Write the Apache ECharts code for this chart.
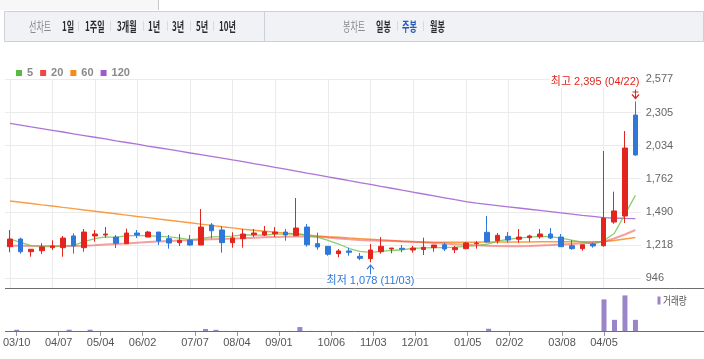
<!DOCTYPE html>
<html><head><meta charset="utf-8">
<script src="https://cdn.jsdelivr.net/npm/echarts@6/dist/echarts.min.js"></script>
<style>html,body{margin:0;padding:0;background:#fff}#c{width:704px;height:359px}</style>
</head><body><div id="c"></div>
<script>
// ---- data (weekly) ----
const dates = ['03/10','03/17','03/24','03/31','04/07','04/14','04/21','04/28','05/04','05/12','05/19','05/26','06/02','06/09','06/16','06/23','06/30','07/07','07/14','07/21','07/28','08/04','08/11','08/18','08/25','09/01','09/08','09/15','09/22','09/29','10/06','10/13','10/20','10/27','11/03','11/10','11/17','11/24','12/01','12/08','12/15','12/22','12/29','01/05','01/12','01/19','01/26','02/02','02/09','02/16','02/23','03/02','03/08','03/16','03/23','03/30','04/05','04/12','04/19','04/26'];
const tickLabels = ['03/10','04/07','05/04','06/02','07/07','08/04','09/01','10/06','11/03','12/01','01/05','02/02','03/08','04/05'];
const priceTicks = [946,1218,1490,1762,2034,2305,2577];
const opens  = [1205,1268,1164,1172,1197,1197,1293,1197,1293,1301,1284,1230,1317,1284,1325,1271,1238,1260,1219,1383,1342,1238,1271,1303,1301,1311,1325,1295,1366,1230,1208,1148,1170,1126,1107,1164,1186,1192,1178,1182,1197,1221,1180,1189,1230,1323,1254,1290,1266,1279,1287,1309,1284,1213,1189,1227,1213,1407,1457,2284];
const closes = [1268,1164,1184,1203,1211,1276,1211,1325,1309,1309,1233,1317,1301,1325,1252,1235,1257,1219,1366,1336,1238,1276,1309,1317,1328,1325,1301,1358,1221,1203,1143,1170,1159,1110,1178,1208,1194,1184,1194,1200,1219,1186,1197,1235,1235,1244,1298,1260,1284,1293,1309,1276,1205,1189,1221,1211,1440,1498,2014,1957];
const lows   = [1159,1148,1123,1145,1178,1123,1148,1164,1246,1279,1194,1230,1276,1284,1219,1189,1211,1213,1219,1271,1156,1197,1197,1284,1293,1287,1254,1295,1205,1180,1131,1118,1131,1094,1078,1148,1151,1159,1156,1137,1164,1170,1153,1184,1189,1238,1230,1238,1238,1246,1271,1268,1205,1180,1172,1197,1205,1393,1399,1951];
const highs  = [1342,1279,1186,1233,1257,1293,1315,1350,1342,1366,1301,1353,1342,1334,1325,1301,1309,1301,1514,1399,1375,1323,1350,1350,1375,1366,1350,1604,1391,1320,1208,1186,1197,1153,1227,1284,1194,1219,1211,1279,1219,1238,1211,1244,1252,1457,1317,1325,1350,1303,1350,1358,1309,1260,1221,1238,1989,1656,2153,2395];
const volumes = [130,5,4,4,6,130,5,130,4,4,5,4,4,4,5,4,5,6,200,120,6,5,4,4,5,5,6,400,8,6,6,5,4,4,6,5,4,4,4,5,4,4,4,5,4,230,6,5,4,4,5,4,6,5,4,5,3200,1130,3600,1130];
const ma5   = [1268,1240,1213,1210,1208,1210,1216,1247,1272,1285,1282,1295,1295,1296,1290,1285,1276,1263,1270,1285,1288,1291,1303,1300,1300,1308,1308,1313,1300,1283,1257,1227,1190,1166,1158,1166,1174,1180,1192,1196,1198,1198,1201,1207,1214,1225,1250,1266,1275,1283,1290,1287,1276,1258,1242,1226,1254,1313,1468,1626];
const ma20  = [1213,1212,1210,1209,1209,1210,1211,1213,1217,1222,1227,1232,1238,1243,1247,1251,1255,1258,1262,1266,1269,1272,1275,1279,1282,1285,1287,1289,1289,1286,1280,1272,1265,1260,1256,1254,1251,1248,1245,1241,1236,1231,1226,1220,1216,1212,1210,1209,1209,1210,1214,1218,1223,1228,1233,1238,1246,1272,1305,1342];
const ma60  = [1580,1569,1559,1548,1538,1527,1517,1506,1496,1485,1475,1464,1453,1443,1432,1422,1411,1401,1390,1380,1369,1359,1348,1340,1332,1324,1316,1309,1301,1293,1287,1282,1276,1271,1266,1261,1256,1250,1245,1241,1241,1241,1242,1242,1242,1243,1243,1243,1244,1244,1245,1245,1245,1246,1246,1246,1247,1256,1268,1280];
const ma120 = [2216,2202,2187,2173,2159,2145,2130,2116,2102,2088,2073,2059,2045,2030,2016,2002,1988,1973,1959,1945,1931,1916,1902,1886,1871,1855,1840,1824,1808,1793,1777,1762,1746,1731,1715,1699,1684,1668,1653,1637,1622,1606,1590,1575,1562,1552,1542,1532,1522,1512,1502,1492,1482,1472,1462,1453,1443,1440,1437,1435];
const highInfo = {idx: 59, value: 2395, text: '최고 2,395 (04/22)'};
const lowInfo  = {idx: 34, value: 1078, text: '최저 1,078 (11/03)'};

const RED = '#e2261f', BLUE = '#2f78da', VOL = '#9a85c8';
const LATIN = '"Liberation Sans", Arial, sans-serif';
const MIX = '"Liberation Sans", "Noto Sans CJK KR", sans-serif';
const KR = '"Noto Sans CJK KR", sans-serif';

const chart = echarts.init(document.getElementById('c'), null, {renderer: 'canvas', width: 704, height: 359});
const isTick = (i, v) => tickLabels.indexOf(v !== undefined ? v : dates[i]) >= 0;
const fmt = v => String(Math.round(v)).replace(/\B(?=(\d{3})+(?!\d))/g, ',');

function maSeries(name, data, solid, lineColor, width) {
  return {name, type: 'line', xAxisIndex: 0, yAxisIndex: 0, data, symbol: 'none', silent: true,
    itemStyle: {color: solid}, lineStyle: {color: lineColor, width}, z: 2};
}

const option = {
  animation: false,
  backgroundColor: '#fff',
  legend: {
    data: ['5','20','60','120'], left: 11, top: 62.5, icon: 'rect', itemWidth: 6, itemHeight: 6, itemGap: 7,
    textStyle: {color: '#8a8a8a', fontWeight: 'bold', fontSize: 11, fontFamily: LATIN}, selectedMode: false
  },
  grid: [
    {left: 4.7, top: 79.3, width: 636, height: 209, containLabel: false},
    {left: 4.7, top: 288.5, width: 636, height: 42.5, containLabel: false}
  ],
  xAxis: [
    {type: 'category', gridIndex: 0, data: dates, boundaryGap: true,
     axisLine: {show: false}, axisTick: {show: false}, axisLabel: {show: false},
     splitLine: {show: true, interval: isTick, alignWithLabel: true, lineStyle: {color: '#ebebeb', width: 1}}},
    {type: 'category', gridIndex: 1, data: dates, boundaryGap: true,
     axisLine: {show: false},
     axisTick: {show: true, interval: isTick, alignWithLabel: true, length: 5, lineStyle: {color: '#999'}},
     axisLabel: {interval: isTick, color: '#555', fontSize: 11, fontFamily: LATIN, margin: 6},
     splitLine: {show: false}}
  ],
  yAxis: [
    {type: 'value', gridIndex: 0, position: 'right', min: 864, max: 2577, scale: true,
     axisLine: {show: false}, axisTick: {show: false, customValues: priceTicks},
     axisLabel: {customValues: priceTicks, formatter: fmt, color: '#666', fontSize: 11, fontFamily: LATIN, margin: 5},
     splitLine: {show: true, lineStyle: {color: '#ebebeb', width: 1}}},
    {type: 'value', gridIndex: 1, min: 0, max: 4300, show: false, splitLine: {show: false}}
  ],
  series: [
    maSeries('120', ma120, '#9b5ccc', 'rgba(165,100,210,0.9)', 1.3),
    maSeries('60', ma60, '#f78a1d', 'rgba(247,140,35,0.85)', 1.4),
    maSeries('20', ma20, '#ee4747', 'rgba(238,80,80,0.55)', 2),
    maSeries('5', ma5, '#56bb3f', 'rgba(110,195,70,0.8)', 1.3),
    {name: 'price', type: 'candlestick', xAxisIndex: 0, yAxisIndex: 0, barWidth: 5, z: 3,
     data: dates.map((d, i) => [opens[i], closes[i], lows[i], highs[i]]),
     itemStyle: {color: RED, color0: BLUE, borderColor: RED, borderColor0: BLUE, borderWidth: 1}},
    {name: 'volume', type: 'bar', xAxisIndex: 1, yAxisIndex: 1, barWidth: 5, data: volumes,
     itemStyle: {color: VOL}}
  ]
};
chart.setOption(option);

// ---- graphics (frame, toolbar, annotations) ----
const g = [];
g.push({type: 'rect', shape: {x: 0, y: 0, width: 158, height: 10}, style: {fill: '#f7f7f7'}, silent: true});
g.push({type: 'line', shape: {x1: 158.5, y1: 0, x2: 158.5, y2: 10}, style: {stroke: '#c8c8c8', lineWidth: 1}, silent: true});
g.push({type: 'rect', shape: {x: 4.5, y: 11.5, width: 699, height: 30}, style: {fill: '#f1f2f6', stroke: '#cdd0d6', lineWidth: 1}, silent: true});
g.push({type: 'line', shape: {x1: 264.5, y1: 11.5, x2: 264.5, y2: 41.5}, style: {stroke: '#cdd0d6', lineWidth: 1}, silent: true});
const tb = [
  ['선차트', 29, '#8a8a8a', 'normal'], ['1일', 62, '#2b2b2b', 'bold'], ['1주일', 85, '#2b2b2b', 'bold'],
  ['3개월', 117, '#2b2b2b', 'bold'], ['1년', 148, '#2b2b2b', 'bold'], ['3년', 172, '#2b2b2b', 'bold'],
  ['5년', 196, '#2b2b2b', 'bold'], ['10년', 219, '#2b2b2b', 'bold'],
  ['봉차트', 343, '#8a8a8a', 'normal'], ['일봉', 376, '#2b2b2b', 'bold'], ['주봉', 402, '#2257c0', 'bold'], ['월봉', 430, '#2b2b2b', 'bold']
];
tb.forEach(([t, x, c, w]) => g.push({type: 'text', x: x, y: 26, scaleX: 0.62, silent: true,
  style: {text: t, fill: c, font: w + ' 13px ' + KR, verticalAlign: 'middle', align: 'left'}}));
[78, 110, 143, 167, 190, 213, 397, 423].forEach(x => g.push({type: 'line', silent: true,
  shape: {x1: x + 0.5, y1: 21, x2: x + 0.5, y2: 31}, style: {stroke: '#dadada', lineWidth: 1}}));
g.push({type: 'line', shape: {x1: 5, y1: 288.5, x2: 704, y2: 288.5}, style: {stroke: '#6e6e6e', lineWidth: 1}, silent: true, z: 10});
g.push({type: 'line', shape: {x1: 5, y1: 331.5, x2: 704, y2: 331.5}, style: {stroke: '#6e6e6e', lineWidth: 1}, silent: true, z: 10});
g.push({type: 'rect', shape: {x: 657.5, y: 296.5, width: 3, height: 8}, style: {fill: VOL}, silent: true});
g.push({type: 'text', x: 663, y: 300.5, scaleX: 0.78, silent: true,
  style: {text: '거래량', fill: '#555', font: '11px ' + KR, verticalAlign: 'middle'}});
const ph = chart.convertToPixel({gridIndex: 0}, [highInfo.idx, highInfo.value]);
const pl = chart.convertToPixel({gridIndex: 0}, [lowInfo.idx, lowInfo.value]);
const hx = Math.round(ph[0]) + 0.5, hy = ph[1];
g.push({type: 'line', shape: {x1: hx, y1: hy - 12, x2: hx, y2: hy - 3}, style: {stroke: RED, lineWidth: 1}, silent: true, z: 20});
g.push({type: 'polyline', shape: {points: [[hx - 3.5, hy - 7], [hx, hy - 3], [hx + 3.5, hy - 7]]}, style: {stroke: RED, lineWidth: 1.2, fill: null}, silent: true, z: 20});
g.push({type: 'line', shape: {x1: hx - 3, y1: hy - 9.5, x2: hx + 3, y2: hy - 9.5}, style: {stroke: RED, lineWidth: 1}, silent: true, z: 20});
g.push({type: 'text', x: hx + 5, y: hy - 19.5, silent: true, z: 20,
  style: {text: highInfo.text, fill: RED, font: '11px ' + MIX, align: 'right', verticalAlign: 'middle', backgroundColor: '#fff', padding: [0, 1]}});
const lx = Math.round(pl[0]) + 0.5, ly = pl[1];
g.push({type: 'line', shape: {x1: lx, y1: ly + 3, x2: lx, y2: ly + 12}, style: {stroke: BLUE, lineWidth: 1}, silent: true, z: 20});
g.push({type: 'polyline', shape: {points: [[lx - 3.5, ly + 7], [lx, ly + 3], [lx + 3.5, ly + 7]]}, style: {stroke: BLUE, lineWidth: 1.2, fill: null}, silent: true, z: 20});
g.push({type: 'text', x: lx, y: ly + 19, silent: true, z: 20,
  style: {text: lowInfo.text, fill: BLUE, font: '11px ' + MIX, align: 'center', verticalAlign: 'middle', backgroundColor: '#fff', padding: [0, 1]}});

chart.setOption({graphic: g});
</script>
</body></html>
